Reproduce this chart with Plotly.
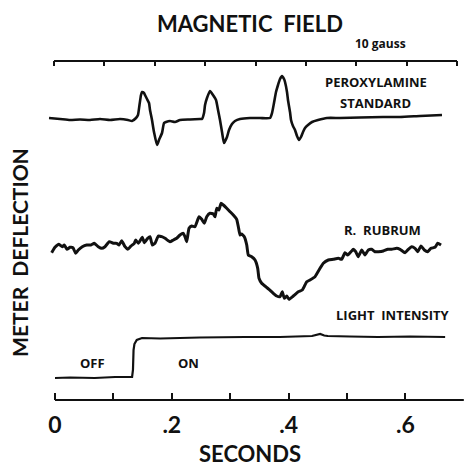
import plotly.graph_objects as go

# ---- data (meter deflection in arbitrary units) ----
# Peroxylamine standard, plotted against magnetic field (gauss)
perox_field = [-0.99, 1.19, 3.18, 5.16, 7.15, 9.13, 11.12, 13.10, 14.69, 15.48, 16.28, 16.67, 16.97,
               17.27, 17.47, 17.87, 18.06, 18.46, 18.86, 19.06, 19.45, 19.85, 20.45, 20.84, 21.44,
               21.84, 22.23, 23.03, 24.02, 25.01, 27.00, 28.98, 29.38, 29.78, 29.98, 30.37, 30.97,
               31.56, 32.16, 32.56, 32.95, 33.35, 33.75, 34.34, 34.74, 35.33, 35.93, 36.92, 38.91,
               40.89, 42.88, 43.28, 43.67, 44.07, 44.47, 44.86, 45.26, 45.66, 45.86, 46.25, 46.45,
               46.85, 47.05, 47.44, 47.84, 48.24, 48.64, 49.03, 49.43, 49.83, 50.42, 51.22, 52.41,
               54.19, 56.77, 60.74, 65.31, 68.68, 72.66, 77.02]
perox_defl = [28.2, 28.1, 28.0, 28.05, 28.0, 28.1, 28.0, 28.1, 28.0, 27.9, 28.2, 28.5, 29.5,
              30.5, 30.8, 30.7, 30.5, 30.1, 29.7, 29.0, 28.0, 26.8, 25.5, 26.0, 26.7,
              27.7, 27.8, 27.9, 27.8, 28.0, 28.05, 28.1, 28.1, 28.7, 29.5, 30.2, 30.9,
              30.5, 30.0, 29.0, 28.0, 26.8, 25.7, 26.3, 27.0, 27.6, 27.9, 28.1, 28.2,
              28.2, 28.2, 28.7, 29.7, 30.8, 31.5, 32.1, 32.4, 32.1, 31.8, 30.8, 30.0,
              28.8, 28.0, 27.4, 27.0, 26.4, 26.0, 26.3, 26.8, 27.2, 27.5, 27.8, 28.0,
              28.2, 28.2, 28.25, 28.3, 28.3, 28.4, 28.5]

# R. rubrum signal vs time (s)
rubrum_t = [-0.0057, 0.0000, 0.0068, 0.0125, 0.0159, 0.0205, 0.0257, 0.0308, 0.0354, 0.0399,
            0.0467, 0.0543, 0.0616, 0.0673, 0.0741, 0.0800, 0.0856, 0.0930, 0.0998, 0.1057,
            0.1096, 0.1142, 0.1199, 0.1245, 0.1301, 0.1358, 0.1382, 0.1426, 0.1495, 0.1529,
            0.1587, 0.1627, 0.1666, 0.1712, 0.1769, 0.1827, 0.1884, 0.1969, 0.2026, 0.2084,
            0.2140, 0.2197, 0.2226, 0.2255, 0.2295, 0.2341, 0.2397, 0.2466, 0.2512, 0.2557,
            0.2598, 0.2654, 0.2711, 0.2740, 0.2769, 0.2808, 0.2842, 0.2882, 0.2940, 0.2997,
            0.3053, 0.3111, 0.3139, 0.3168, 0.3197, 0.3241, 0.3283, 0.3310, 0.3368, 0.3425,
            0.3471, 0.3493, 0.3539, 0.3608, 0.3664, 0.3738, 0.3796, 0.3853, 0.3892, 0.3926,
            0.3967, 0.4007, 0.4080, 0.4166, 0.4235, 0.4310, 0.4366, 0.4452, 0.4521, 0.4594,
            0.4680, 0.4765, 0.4851, 0.4909, 0.4966, 0.5012, 0.5068, 0.5108, 0.5149, 0.5193,
            0.5252, 0.5308, 0.5365, 0.5423, 0.5479, 0.5536, 0.5622, 0.5697, 0.5765, 0.5851,
            0.5908, 0.5993, 0.6050, 0.6108, 0.6164, 0.6211, 0.6267, 0.6324, 0.6382, 0.6438,
            0.6507, 0.6553, 0.6610]
rubrum_defl = [14.73, 15.27, 15.57, 15.33, 15.50, 15.07, 15.27, 15.23, 14.67, 15.00,
               15.33, 15.50, 15.50, 15.67, 15.33, 15.17, 15.33, 15.83, 15.67, 15.67,
               15.50, 15.93, 15.33, 15.07, 15.40, 15.67, 16.00, 15.67, 16.27, 15.73,
               16.17, 16.33, 15.50, 15.67, 16.40, 16.33, 16.17, 15.83, 16.00, 16.17,
               16.50, 16.67, 16.33, 15.83, 17.17, 17.40, 17.33, 18.33, 18.07, 17.67,
               18.33, 18.67, 18.60, 18.33, 19.17, 19.00, 19.67, 19.50, 19.17, 18.83,
               18.50, 18.07, 17.33, 16.50, 16.60, 16.33, 15.50, 14.50, 14.33, 14.00,
               13.17, 12.17, 11.67, 11.33, 11.07, 10.67, 10.40, 10.33, 10.83, 10.17,
               10.40, 10.07, 10.40, 10.83, 11.00, 11.83, 12.00, 12.33, 13.00, 13.67,
               14.00, 14.07, 14.17, 14.07, 14.73, 14.50, 14.83, 15.07, 14.83, 14.33,
               15.00, 14.50, 15.00, 15.07, 14.83, 14.83, 14.90, 15.07, 15.07, 15.17,
               15.07, 14.73, 15.07, 15.33, 15.17, 14.83, 15.40, 15.00, 14.83, 15.17,
               15.27, 15.67, 15.50]

# Light intensity vs time (s)
light_t = [0.000, 0.026, 0.068, 0.103, 0.132, 0.1335, 0.1345, 0.136, 0.140, 0.149, 0.180,
           0.211, 0.248, 0.325, 0.385, 0.440, 0.447, 0.454, 0.461, 0.467, 0.505, 0.553,
           0.608, 0.668]
light_defl = [2.2, 2.25, 2.2, 2.3, 2.3, 3.0, 5.0, 5.6, 6.0, 6.2, 6.15,
              6.2, 6.25, 6.3, 6.3, 6.4, 6.5, 6.6, 6.45, 6.4, 6.35, 6.3,
              6.35, 6.3]

# axes
sec_ticks = [0, 0.1, 0.2, 0.3, 0.4, 0.5, 0.6, 0.7]
sec_labels = ["0", "", ".2", "", ".4", "", ".6", ""]
field_ticks = [0, 10, 20, 30, 40, 50, 60, 70, 80]

INK = "#111111"
TITLE_FONT = "Lato"
LABEL_FONT = "Open Sans"

fig = go.Figure()
fig.add_trace(go.Scatter(x=perox_field, y=perox_defl, xaxis="x2", yaxis="y", mode="lines",
                         line=dict(color=INK, width=2.6, shape="spline", smoothing=0.5),
                         hoverinfo="skip", showlegend=False))
fig.add_trace(go.Scatter(x=rubrum_t, y=rubrum_defl, mode="lines",
                         line=dict(color=INK, width=3, shape="spline", smoothing=0.4),
                         hoverinfo="skip", showlegend=False))
fig.add_trace(go.Scatter(x=light_t, y=light_defl, mode="lines",
                         line=dict(color=INK, width=2.2),
                         hoverinfo="skip", showlegend=False))

fig.update_layout(
    width=466, height=466,
    margin=dict(l=46, r=2, t=61, b=66),
    paper_bgcolor="white", plot_bgcolor="white",
    showlegend=False,
    xaxis=dict(range=[-0.0154, 0.7003], tickvals=sec_ticks, ticktext=sec_labels,
               ticks="inside", ticklen=7, tickwidth=2, tickcolor=INK,
               showline=False, showgrid=False, zeroline=False, ticklabelstandoff=9,
               tickfont=dict(family=TITLE_FONT, size=23, color=INK, weight="bold")),
    xaxis2=dict(range=[-1.59, 81.39], overlaying="x", side="top", anchor="y",
                tickvals=field_ticks, showticklabels=False,
                ticks="inside", ticklen=5, tickwidth=2, tickcolor=INK,
                showline=False, showgrid=False, zeroline=False),
    yaxis=dict(range=[0, 33.9], visible=False, fixedrange=True),
)

# axis lines drawn along the tick spans
fig.add_shape(type="line", xref="x", yref="paper", x0=sec_ticks[0], x1=sec_ticks[-1], y0=0, y1=0,
              line=dict(color=INK, width=2))
fig.add_shape(type="line", xref="x2", yref="paper", x0=field_ticks[0], x1=field_ticks[-1], y0=1, y1=1,
              line=dict(color=INK, width=2))

def ann(text, x, y, size, xref="paper", yref="paper", weight="bold", family=LABEL_FONT, angle=0):
    fig.add_annotation(text=text, x=x, y=y, xref=xref, yref=yref,
                       showarrow=False, xanchor="center", yanchor="middle", textangle=angle,
                       font=dict(family=family, size=size, color=INK, weight=weight))

ann("MAGNETIC  FIELD", 0.488, 1.112, 22, family=TITLE_FONT)
ann("10 gauss", 0.801, 1.053, 12)
ann("SECONDS", 0.488, -0.158, 22, family=TITLE_FONT)
ann("METER  DEFLECTION", -0.062, 0.434, 21, family=TITLE_FONT, angle=-90)
ann("PEROXYLAMINE", 0.789, 31.8, 13, yref="y")
ann("STANDARD", 0.789, 29.7, 13, yref="y")
ann("R.  RUBRUM", 0.804, 17.0, 13, yref="y")
ann("LIGHT  INTENSITY", 0.830, 8.5, 13, yref="y")
ann("OFF", 0.112, 3.7, 13, yref="y")
ann("ON", 0.340, 3.7, 13, yref="y")

fig.write_html("out.html")
